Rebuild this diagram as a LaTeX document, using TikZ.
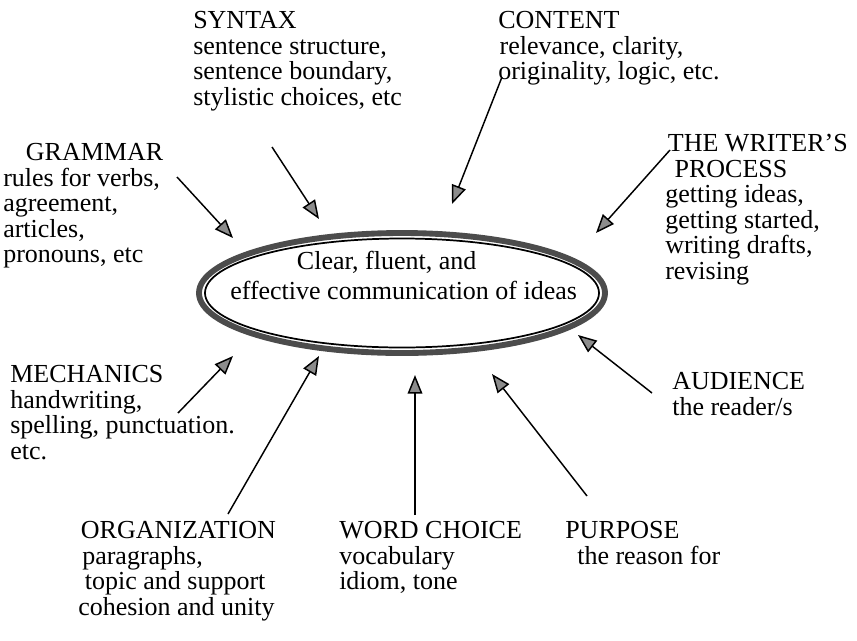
\documentclass[tikz,border=0pt]{standalone}
\usepackage{fontspec}
\setmainfont{Liberation Serif}
\usetikzlibrary{arrows.meta}

\tikzset{
  blurb/.style={anchor=north west, inner sep=0pt, align=left, font=\fontsize{19.5}{19.2}\selectfont},
  feed/.style={line width=1.1pt, -{Triangle[length=14pt,width=11pt,fill=black!45]}},
}

\begin{document}
\begin{tikzpicture}[x=0.75pt,y=0.75pt,yscale=-1,xscale=1]
\useasboundingbox (0,0) rectangle (857,640);

%Shape: Ellipse (outer band and thin inner line)
\draw [color=black!70, line width=4.4pt]  (402,293) ellipse (203 and 60) ;
\draw [color=black, line width=1.3pt]  (402,293) ellipse (197 and 54.5) ;

% Text Node
\node [blurb, font=\fontsize{19.5}{22.5}\selectfont] (hub) at (230,251) {\hspace*{50pt}Clear, fluent, and\\effective communication of ideas};

% Text Node
\node [blurb] (syntax) at (193,11) {SYNTAX\\sentence structure,\\sentence boundary,\\stylistic choices, etc};
% Text Node
\node [blurb] (content) at (498,11) {CONTENT\\\hspace*{1pt}relevance, clarity,\\originality, logic, etc.};
% Text Node
\node [blurb] (grammar) at (3,143) {\hspace*{17pt}GRAMMAR\\rules for verbs,\\agreement,\\articles,\\pronouns, etc};
% Text Node
\node [blurb] (writer) at (665,134) {\hspace*{2pt}THE WRITER'S\\\hspace*{7pt}PROCESS\\getting ideas,\\getting started,\\writing drafts,\\revising};
% Text Node
\node [blurb] (mechanics) at (10,365) {MECHANICS\\handwriting,\\spelling, punctuation.\\etc.};
% Text Node
\node [blurb] (audience) at (672,372) {AUDIENCE\\the reader/s};
% Text Node
\node [blurb] (organization) at (78,521) {\hspace*{2pt}ORGANIZATION\\\hspace*{3pt}paragraphs,\\\hspace*{5pt}topic and support\\cohesion and unity};
% Text Node
\node [blurb] (wordchoice) at (339,521) {WORD CHOICE\\vocabulary\\idiom, tone};
% Text Node
\node [blurb] (purpose) at (565,521) {PURPOSE\\\hspace*{9pt}the reason for};

% Arrow ends
\coordinate (syntax-tail) at (272,147);
\coordinate (syntax-tip) at (319,219);
\coordinate (content-tail) at (502,77);
\coordinate (content-tip) at (452,204);
\coordinate (writer-tail) at (670,150);
\coordinate (writer-tip) at (596,233);
\coordinate (grammar-tail) at (177,177);
\coordinate (grammar-tip) at (233,238);
\coordinate (mechanics-tail) at (178,413);
\coordinate (mechanics-tip) at (233,356);
\coordinate (organization-tail) at (228,514);
\coordinate (organization-tip) at (319,356);
\coordinate (wordchoice-tail) at (415,515);
\coordinate (wordchoice-tip) at (415,375);
\coordinate (purpose-tail) at (587,496);
\coordinate (purpose-tip) at (492,374);
\coordinate (audience-tail) at (652,393);
\coordinate (audience-tip) at (578,335);

%Straight Lines
\foreach \n in {syntax,content,writer,grammar,mechanics,organization,wordchoice,purpose,audience}
  \draw [feed] (\n-tail) -- (\n-tip) ;

\end{tikzpicture}
\end{document}
